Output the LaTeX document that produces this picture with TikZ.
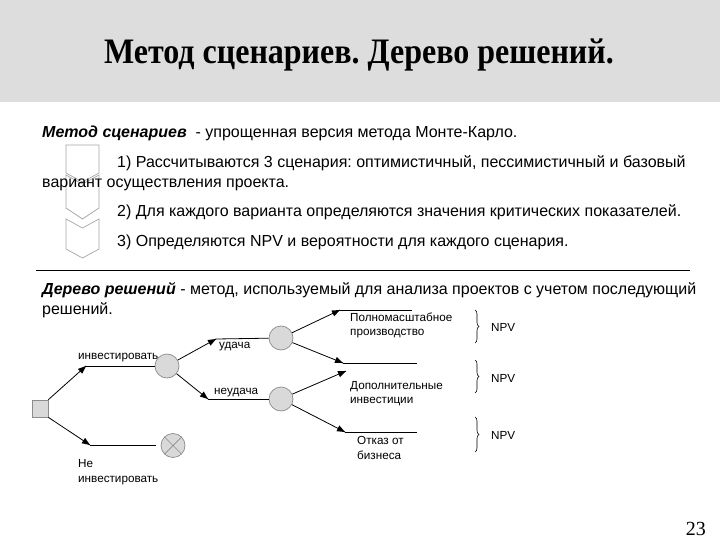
\documentclass[tikz,border=0pt]{standalone}
\usepackage{fontspec}
\setmainfont{Liberation Sans}
\newfontfamily\titlefont{Liberation Serif}
\usetikzlibrary{decorations.pathreplacing}
\frenchspacing
\definecolor{band}{HTML}{DDDDDD}
\definecolor{nodefill}{HTML}{D9D9D9}
\definecolor{nodeline}{HTML}{8C8C8C}
\definecolor{chev}{HTML}{A6A6A6}
\newcommand\headat[5]{\fill[black] (#1) -- +(#2,#3) -- +(#4,#5) -- cycle;}
\tikzset{
  body/.style={anchor=base west,inner sep=0pt,font=\fontsize{16}{19}\selectfont},
  small/.style={anchor=base west,inner sep=0pt,font=\fontsize{11.7}{14}\selectfont},
  chance/.style={circle,draw=nodeline,fill=nodefill,minimum size=24pt,inner sep=0pt,line width=0.7pt},
  arr/.style={line width=0.8pt},
  ln/.style={line width=0.8pt},
  chevshape/.style={draw=chev,line width=0.7pt,fill=white},
  npvbrace/.style={decorate,decoration={brace,amplitude=4pt},line width=0.6pt}
}
\begin{document}
\begin{tikzpicture}[x=1pt,y=-1pt]
\useasboundingbox (0,0) rectangle (720,540);
\fill[band] (0,0) rectangle (720,102);
\node[inner sep=0pt,font=\titlefont\bfseries\fontsize{32}{36}\selectfont] (title) at (359,55) {\scalebox{1}[1.12]{Метод сценариев. Дерево решений.}};

% chevrons
\draw[chevshape] (66,145) -- (99,145) -- (99,173) -- (82.5,182) -- (66,173) -- cycle;
\draw[chevshape] (66,175) -- (82.5,184) -- (99,175) -- (99,208) -- (82.5,219) -- (66,208) -- cycle;
\draw[chevshape] (66,219) -- (82.5,228) -- (99,219) -- (99,249) -- (82.5,258) -- (66,249) -- cycle;

\node[body] (t0) at (42,138) {\textbf{\textit{Метод сценариев}}\ \ - упрощенная версия метода Монте-Карло.};
\node[body] (t1) at (117,168) {1) Рассчитываются 3 сценария: оптимистичный, пессимистичный и базовый};
\node[body] (t1b) at (42,188) {вариант осуществления проекта.};
\node[body] (t2) at (117,217) {2) Для каждого варианта определяются значения критических показателей.};
\node[body] (t3) at (117,246) {3) Определяются NPV и вероятности для каждого сценария.};

\coordinate (sepL) at (36,270);
\coordinate (sepR) at (690,270);
\draw[line width=0.8pt] (sepL) -- (sepR);

\node[body] (d1) at (42,294) {\textbf{\textit{Дерево решений}} - метод, используемый для анализа проектов с учетом последующий};
\node[body] (d2) at (42,314) {решений.};

% tree
\node[draw=nodeline,fill=nodefill,minimum width=16pt,minimum height=17pt,inner sep=0pt,line width=0.7pt] (sq) at (40,408.5) {};
\node[chance] (c1) at (167,366) {};
\node[chance] (c2) at (281,338) {};
\node[chance] (c3) at (281,399) {};
\node[chance] (cx) at (173,445.5) {};
\draw[nodeline,line width=0.7pt] (cx.45) -- (cx.225) (cx.135) -- (cx.315);

\coordinate (a1) at (86,366);
\coordinate (a2) at (90,445);
\coordinate (ax) at (156,445);
\coordinate (a3) at (216,339);
\coordinate (a4) at (208,399);
\coordinate (a5) at (340,310);
\coordinate (e5) at (412,310);
\coordinate (a6) at (343,363);
\coordinate (e6) at (417,363);
\coordinate (a7) at (346,371);
\coordinate (a8) at (345,432);
\coordinate (e8) at (417,432);

\draw[arr] (sq.north east) -- (a1); \headat{a1}{-3.83}{7.71}{-8.09}{2.95}
\draw[ln] (a1) -- (c1);
\draw[arr] (sq.south east) -- (a2); \headat{a2}{-8.44}{-1.78}{-4.88}{-7.10}
\draw[ln] (a2) -- (ax);
\draw[arr] (c1) -- (a3); \headat{a3}{-5.47}{6.66}{-8.55}{1.06}
\draw[ln] (a3) -- (c2);
\draw[arr] (c1) -- (a4); \headat{a4}{-8.24}{-2.53}{-4.22}{-7.51}
\draw[ln] (a4) -- (c3);
\draw[arr] (c2) -- (a5); \headat{a5}{-5.86}{6.32}{-8.60}{0.54}
\draw[ln] (a5) -- (e5);
\draw[arr] (c2) -- (a6); \headat{a6}{-8.62}{-0.02}{-6.22}{-5.96}
\draw[ln] (a6) -- (e6);
\draw[arr] (c3) -- (a7); \headat{a7}{-6.08}{6.10}{-8.62}{0.22}
\draw[arr] (c3) -- (a8); \headat{a8}{-8.58}{-0.83}{-5.64}{-6.51}
\draw[ln] (a8) -- (e8);

\node[small] (l1) at (78,359) {инвестировать};
\node[small] (l2) at (78,467) {Не};
\node[small] (l2b) at (78,482) {инвестировать};
\node[small] (l3) at (219,348) {удача};
\node[small] (l4) at (214,394) {неудача};
\node[small] (l5) at (350,321) {Полномасштабное};
\node[small] (l5b) at (350,335) {производство};
\node[small] (l6) at (350,389) {Дополнительные};
\node[small] (l6b) at (350,403) {инвестиции};
\node[small] (l7) at (357,444) {Отказ от};
\node[small] (l7b) at (357,459) {бизнеса};

\coordinate (b1t) at (475,310); \coordinate (b1b) at (475,343);
\coordinate (b2t) at (475,360); \coordinate (b2b) at (475,393);
\coordinate (b3t) at (475,417); \coordinate (b3b) at (475,452);
\draw[npvbrace] (b1t) -- (b1b);
\draw[npvbrace] (b2t) -- (b2b);
\draw[npvbrace] (b3t) -- (b3b);
\node[small] (n1) at (491,331) {NPV};
\node[small] (n2) at (491,382) {NPV};
\node[small] (n3) at (491,439) {NPV};

\node[anchor=base east,inner sep=0pt,font=\titlefont\fontsize{20}{24}\selectfont] (pg) at (706,535) {23};
\end{tikzpicture}
\end{document}
